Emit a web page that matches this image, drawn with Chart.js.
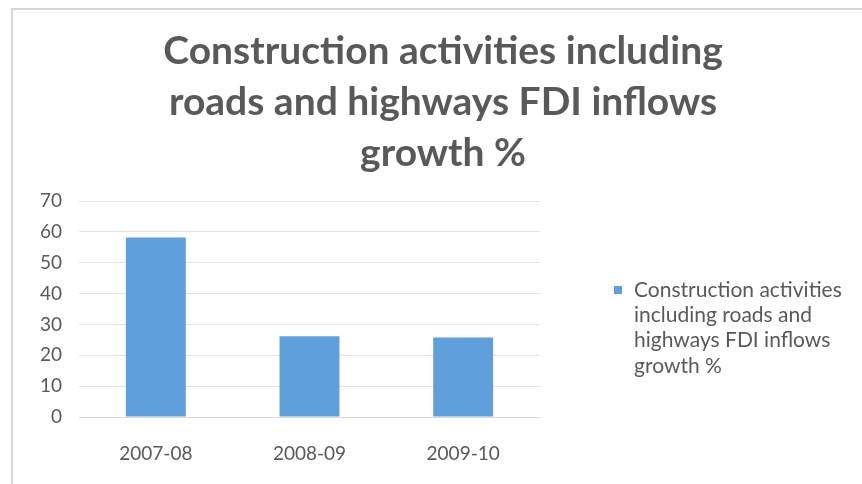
<!DOCTYPE html>
<html lang="en">
<head>
  <meta charset="UTF-8">
  <title>Construction activities FDI inflows growth</title>
  <script src="https://cdn.jsdelivr.net/npm/chart.js"></script>
  <style>
    html, body { margin: 0; padding: 0; background: #fff; }
    #wrap { position: relative; width: 862px; height: 484px; }
    #frame { position: absolute; left: 11px; top: 8px; right: -5px; bottom: -5px;
             border-left: 2px solid #d6d6d6; border-top: 2px solid #d6d6d6; pointer-events: none; }
    canvas { display: block; }
  </style>
</head>
<body>
  <div id="wrap">
    <canvas id="chart" width="862" height="484"></canvas>
    <div id="frame"></div>
  </div>

  <script>
    const years = ['2007-08', '2008-09', '2009-10'];
    const growth = [58.2, 26.2, 25.8];
    const seriesName = 'Construction activities including roads and highways FDI inflows growth %';
    const titleLines = ['Construction activities including', 'roads and highways FDI inflows', 'growth %'];
    const legendLines = ['Construction activities', 'including roads and', 'highways FDI inflows', 'growth %'];

    const grey = '#595959';
    const barBlue = '#5f9fdb';
    const fontFamily = 'Lato, "Open Sans", sans-serif';

    // legend to the right of the plot, wrapped over several lines
    const sideLegend = {
      id: 'sideLegend',
      afterDraw(chart) {
        const ctx = chart.ctx;
        const area = chart.chartArea;
        const x = area.right + 74;
        const lineH = 25.3;
        const top = area.top + 89;
        ctx.save();
        ctx.fillStyle = chart.data.datasets[0].backgroundColor;
        ctx.fillRect(x, top - 4, 8, 8);
        ctx.fillStyle = grey;
        ctx.font = '21px ' + fontFamily;
        ctx.textBaseline = 'middle';
        legendLines.forEach((t, i) => ctx.fillText(t, x + 20, top + i * lineH));
        ctx.restore();
      }
    };

    new Chart(document.getElementById('chart'), {
      type: 'bar',
      data: {
        labels: years,
        datasets: [{
          label: seriesName,
          data: growth,
          backgroundColor: barBlue,
          categoryPercentage: 1,
          barPercentage: 0.39
        }]
      },
      options: {
        responsive: false,
        animation: false,
        layout: { padding: { left: 24, right: 0, top: 0, bottom: 0 } },
        scales: {
          x: {
            grid: { display: false, drawTicks: false },
            border: { display: true, color: '#d9d9d9' },
            ticks: { color: grey, padding: 25, font: { family: fontFamily, size: 19 } },
            afterFit: s => { s.height = 67; }
          },
          y: {
            min: 0,
            max: 70,
            grid: { color: '#e3e3e3', drawTicks: false },
            border: { display: false },
            ticks: { stepSize: 10, color: grey, padding: 17, font: { family: fontFamily, size: 19 } },
            afterFit: s => { s.width = 55; }
          },
          // empty right-hand scale keeps room for the legend
          side: {
            type: 'linear',
            position: 'right',
            grid: { display: false, drawTicks: false },
            border: { display: false },
            ticks: { display: false },
            afterFit: s => { s.width = 322; }
          }
        },
        plugins: {
          legend: { display: false },
          tooltip: { enabled: false },
          title: {
            display: true,
            text: titleLines,
            color: grey,
            padding: { top: 26, bottom: 22 },
            font: { family: fontFamily, size: 39, weight: 'bold', lineHeight: 1.308 }
          }
        }
      },
      plugins: [sideLegend]
    });
  </script>
</body>
</html>
